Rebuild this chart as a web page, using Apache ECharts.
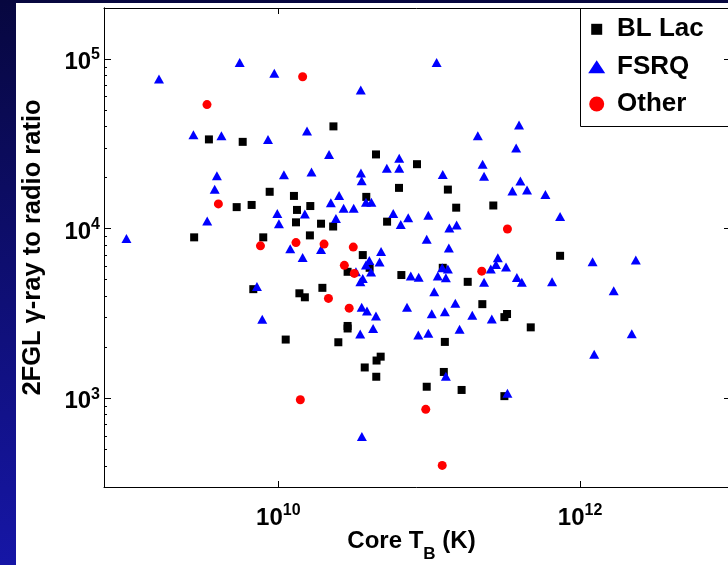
<!DOCTYPE html>
<html>
<head>
<meta charset="utf-8">
<script src="https://cdn.jsdelivr.net/npm/echarts@6/dist/echarts.min.js"></script>
<style>
  html, body { margin: 0; padding: 0; }
  body { width: 728px; height: 565px; position: relative; overflow: hidden;
         background: linear-gradient(to bottom, #07073f, #1616a6); }
  #sheet { position: absolute; left: 16px; top: 3px; right: 0; bottom: 0; background: #fff; }
  #chart { position: absolute; left: 0; top: 0; width: 728px; height: 565px; }
</style>
</head>
<body>
<div id="sheet"></div>
<div id="chart"></div>
<script>
var font = 'Liberation Sans, Arial, sans-serif';

var xMajor = [1e10, 1e12];
var yMajor = [1e3, 1e4, 1e5];
var yMinor = [300, 400, 500, 600, 700, 800, 900,
  2000, 3000, 4000, 5000, 6000, 7000, 8000, 9000,
  20000, 30000, 40000, 50000, 60000, 70000, 80000, 90000];

// [core T_B (K), gamma/radio ratio]
var blLac = [
  [2.32e10, 4.01e4], [3.47e9, 3.36e4], [5.81e9, 3.25e4], [4.44e10, 2.74e4], [8.77e9, 1.65e4],
  [1.27e10, 1.56e4], [3.83e10, 1.54e4], [5.30e9, 1.34e4], [6.66e9, 1.38e4], [1.33e10, 1.29e4],
  [1.63e10, 1.36e4], [1.31e10, 1.09e4], [1.92e10, 1.07e4], [2.31e10, 1.03e4], [2.77e9, 8.89e3],
  [7.95e9, 8.89e3], [1.62e10, 9.13e3], [3.63e10, 6.99e3], [4.03e10, 5.88e3], [2.88e10, 5.57e3],
  [6.83e9, 4.40e3], [1.38e10, 4.16e3], [1.50e10, 3.94e3], [1.96e10, 4.48e3], [2.88e10, 2.67e3],
  [2.88e10, 2.58e3], [1.12e10, 2.22e3], [2.50e10, 2.14e3], [4.77e10, 1.76e3], [4.48e10, 1.67e3],
  [3.74e10, 1.52e3], [4.46e10, 1.34e3], [8.30e10, 2.40e4], [6.31e10, 1.74e4], [1.33e11, 1.70e4],
  [1.51e11, 1.33e4], [2.66e11, 1.37e4], [5.26e10, 1.10e4], [6.54e10, 5.33e3], [1.23e11, 5.88e3],
  [1.80e11, 4.86e3], [7.37e11, 6.92e3], [2.25e11, 3.59e3], [3.28e11, 3.14e3], [3.15e11, 3.01e3],
  [4.71e11, 2.62e3], [1.27e11, 2.15e3], [1.25e11, 1.43e3], [9.63e10, 1.17e3], [1.64e11, 1.12e3],
  [3.15e11, 1.03e3]
];
var fsrq = [
  [1.62e9, 7.62e4], [5.55e9, 9.56e4], [9.41e9, 8.24e4], [3.52e10, 6.57e4], [2.74e9, 3.58e4],
  [4.20e9, 3.53e4], [8.55e9, 3.36e4], [1.55e10, 3.76e4], [2.17e10, 2.74e4], [3.92e9, 2.05e4],
  [3.79e9, 1.71e4], [1.09e10, 2.08e4], [1.66e10, 2.16e4], [3.53e10, 2.13e4], [3.57e10, 1.92e4],
  [2.53e10, 1.57e4], [2.23e10, 1.42e4], [2.71e10, 1.32e4], [3.16e10, 1.32e4], [3.81e10, 1.43e4],
  [4.14e10, 1.43e4], [9.85e9, 1.23e4], [1.01e10, 1.07e4], [1.50e10, 1.22e4], [2.41e10, 1.15e4],
  [3.38e9, 1.11e4], [9.86e8, 8.74e3], [1.20e10, 7.61e3], [1.92e10, 7.53e3], [1.45e10, 6.77e3],
  [4.80e10, 7.33e3], [4.01e10, 6.49e3], [3.81e10, 6.10e3], [4.69e10, 6.36e3], [4.12e10, 5.55e3],
  [3.27e10, 5.57e3], [3.63e10, 5.08e3], [3.50e10, 4.86e3], [7.22e9, 4.56e3], [3.57e10, 3.44e3],
  [3.87e10, 3.27e3], [4.44e10, 3.06e3], [7.83e9, 2.92e3], [4.25e10, 2.58e3], [3.49e10, 2.39e3],
  [3.58e10, 596], [5.24e10, 2.27e4], [6.33e10, 2.60e4], [6.33e10, 2.27e4], [1.12e11, 9.56e4],
  [3.94e11, 4.08e4], [2.10e11, 3.53e4], [3.77e11, 2.99e4], [1.23e11, 2.09e4], [2.26e11, 2.40e4],
  [2.31e11, 2.04e4], [4.02e11, 1.91e4], [3.56e11, 1.67e4], [4.45e11, 1.69e4], [5.89e11, 1.59e4],
  [7.37e11, 1.18e4], [5.78e10, 1.23e4], [6.48e10, 1.06e4], [7.26e10, 1.16e4], [9.87e10, 1.20e4],
  [1.36e11, 1.01e4], [1.52e11, 1.05e4], [9.63e10, 8.65e3], [1.35e11, 7.69e3], [7.55e10, 5.26e3],
  [8.52e10, 5.18e3], [1.22e11, 5.88e3], [1.33e11, 5.78e3], [1.14e11, 5.26e3], [1.29e11, 5.13e3],
  [2.85e11, 6.74e3], [2.77e11, 6.16e3], [2.56e11, 5.78e3], [3.23e11, 5.94e3], [2.31e11, 4.83e3],
  [3.81e11, 5.16e3], [4.11e11, 4.83e3], [6.52e11, 4.86e3], [1.21e12, 6.38e3], [2.34e12, 6.53e3],
  [1.67e12, 4.30e3], [1.08e11, 4.25e3], [7.13e10, 3.44e3], [1.49e11, 3.63e3], [1.04e11, 3.15e3],
  [1.27e11, 3.24e3], [1.93e11, 3.09e3], [2.60e11, 2.93e3], [8.47e10, 2.36e3], [9.87e10, 2.42e3],
  [1.59e11, 2.55e3], [2.20e12, 2.40e3], [1.24e12, 1.82e3], [1.29e11, 1.35e3], [3.30e11, 1.07e3]
];
var other = [
  [1.45e10, 7.86e4], [3.37e9, 5.39e4], [4.01e9, 1.40e4], [7.62e9, 7.92e3], [1.31e10, 8.28e3],
  [2.01e10, 8.11e3], [3.14e10, 7.79e3], [2.74e10, 6.08e3], [3.19e10, 5.45e3], [2.15e10, 3.88e3],
  [2.95e10, 3.40e3], [1.40e10, 980], [2.23e11, 5.62e3], [3.30e11, 9.95e3], [9.49e10, 861],
  [1.22e11, 402]
];

var chart = echarts.init(document.getElementById('chart'), null, { renderer: 'canvas' });

function powLabel(v) {
  var e = Math.round(Math.log10(v));
  return '{b|10}{s|' + e + '}';
}
var powRich = {
  b: { fontFamily: font, fontSize: 24, fontWeight: 'bold', color: '#000', lineHeight: 24, padding: [7, 0, 0, 0] },
  s: { fontFamily: font, fontSize: 16, fontWeight: 'bold', color: '#000', lineHeight: 16, verticalAlign: 'top' }
};
var line = { show: true, onZero: false, lineStyle: { color: '#000', width: 1 } };

function xAx(pos, labels) {
  return {
    type: 'log', logBase: 10, min: 7e8, max: 1e13, position: pos,
    axisLine: line,
    axisTick: { show: true, inside: true, length: 6, customValues: xMajor, lineStyle: { color: '#000' } },
    axisLabel: labels ? { show: true, customValues: xMajor, margin: 16, formatter: powLabel, rich: powRich } : { show: false },
    splitLine: { show: false }, minorTick: { show: false }
  };
}
function yAx(pos, ticks, len, labels) {
  return {
    type: 'log', logBase: 10, min: 300, max: 2e5, position: pos,
    axisLine: line,
    axisTick: { show: true, inside: true, length: len, customValues: ticks, lineStyle: { color: '#000' } },
    axisLabel: labels ? { show: true, customValues: ticks, margin: 4, formatter: powLabel, rich: powRich } : { show: false },
    splitLine: { show: false }, minorTick: { show: false }
  };
}

var xBottom = xAx('bottom', true);
xBottom.name = '{t|Core T}{u|B}{v| (K)}';
xBottom.nameLocation = 'middle';
xBottom.nameGap = 42;
xBottom.nameMoveOverlap = false;
xBottom.nameTextStyle = {
  rich: {
    t: { fontFamily: font, fontSize: 24, fontWeight: 'bold', color: '#000', lineHeight: 24, verticalAlign: 'top' },
    u: { fontFamily: font, fontSize: 17, fontWeight: 'bold', color: '#000', lineHeight: 34, verticalAlign: 'bottom' },
    v: { fontFamily: font, fontSize: 24, fontWeight: 'bold', color: '#000', lineHeight: 24, verticalAlign: 'top', padding: [0, 12, 0, 0] }
  }
};
var yLeft = yAx('left', yMajor, 7, true);
yLeft.name = '2FGL γ-ray to radio ratio';
yLeft.nameLocation = 'middle';
yLeft.nameGap = 58;
yLeft.nameMoveOverlap = false;
yLeft.nameTextStyle = { fontFamily: font, fontSize: 25.5, fontWeight: 'bold', color: '#000' };

function legendFor(name, icon, w, h, cy) {
  return {
    data: [{ name: name, icon: icon }],
    left: 596.7 - w / 2, top: cy - 14,
    padding: 0, itemWidth: w, itemHeight: h,
    textStyle: { fontFamily: font, fontSize: 26, fontWeight: 'bold', color: '#000', lineHeight: 28,
                 padding: [0, 0, 0, 617 - 596.7 - w / 2 - 5] }
  };
}

chart.setOption({
  animation: false,
  backgroundColor: 'transparent',
  grid: { left: 104, top: 8, width: 627, height: 479, containLabel: false, outerBoundsMode: 'none' },
  xAxis: [xBottom, xAx('top', false)],
  yAxis: [yLeft, yAx('left', yMinor, 3, false), yAx('right', yMajor, 7, false), yAx('right', yMinor, 3, false)],
  legend: [
    legendFor('BL Lac', 'rect', 11, 11, 29.3),
    legendFor('FSRQ', 'triangle', 17, 13, 66.7),
    legendFor('Other', 'circle', 15, 15, 104)
  ],
  graphic: [{
    type: 'rect', z: -1, silent: true,
    shape: { x: 580.5, y: 8.5, width: 200, height: 118 },
    style: { fill: '#fff', stroke: '#000', lineWidth: 1 }
  }],
  series: [
    { name: 'BL Lac', type: 'scatter', data: blLac, symbol: 'rect', symbolSize: 8,
      itemStyle: { color: '#000', opacity: 1 } },
    { name: 'FSRQ', type: 'scatter', data: fsrq, symbol: 'triangle', symbolSize: [10, 9],
      itemStyle: { color: '#0000ff', opacity: 1 } },
    { name: 'Other', type: 'scatter', data: other, symbol: 'circle', symbolSize: 9,
      itemStyle: { color: '#ff0000', opacity: 1 } }
  ]
});
</script>
</body>
</html>
